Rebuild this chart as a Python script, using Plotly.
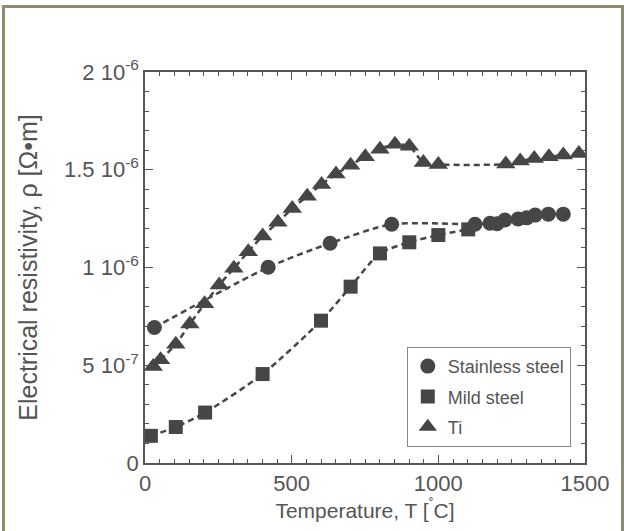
import plotly.graph_objects as go

# Data
ss_T = [32, 420, 631, 841, 1125, 1176, 1200, 1227, 1272, 1301, 1330, 1375, 1426]
ss_rho = [0.693, 1.001, 1.124, 1.221, 1.221, 1.226, 1.224, 1.243, 1.248, 1.254, 1.268, 1.273, 1.273]

mild_T = [20, 105, 205, 401, 600, 701, 801, 901, 1000, 1102]
mild_rho = [0.139, 0.184, 0.258, 0.455, 0.728, 0.902, 1.072, 1.129, 1.166, 1.195]

ti_T = [28, 53, 105, 153, 203, 253, 303, 352, 401, 453, 502, 553, 602, 651, 701,
        751, 801, 852, 901, 949, 1000, 1230, 1279, 1327, 1377, 1426, 1479]
ti_rho = [0.493, 0.528, 0.608, 0.711, 0.814, 0.911, 0.996, 1.081, 1.161, 1.231,
          1.302, 1.365, 1.425, 1.478, 1.523, 1.566, 1.605, 1.631, 1.620, 1.537,
          1.527, 1.529, 1.545, 1.558, 1.566, 1.575, 1.583]

y_tickvals = [0, 0.5e-6, 1e-6, 1.5e-6, 2e-6]
y_ticktext = ["0", "5 10<sup>-7</sup>", "1 10<sup>-6</sup>", "1.5 10<sup>-6</sup>", "2 10<sup>-6</sup>"]
x_tickvals = [0, 500, 1000, 1500]

series = [
    ("Stainless steel", ss_T, ss_rho, "circle", 15),
    ("Mild steel", mild_T, mild_rho, "square", 14),
    ("Ti", ti_T, ti_rho, "triangle-up", 17),
]

MC = "#464646"
TC = "#555555"
FAM = "Liberation Sans, Arial, sans-serif"
fig = go.Figure()
for name, T, r, sym, sz in series:
    rr = [v * 1e-6 for v in r]
    fig.add_trace(go.Scatter(
        x=T, y=rr, mode="lines", showlegend=False,
        line=dict(color=MC, width=2.5, dash="6px,4px", shape="spline", smoothing=0.7),
        hoverinfo="skip"))
for name, T, r, sym, sz in series:
    rr = [v * 1e-6 for v in r]
    fig.add_trace(go.Scatter(
        x=T, y=rr, mode="markers", name=name, legendgroup=name,
        marker=dict(symbol=sym, size=sz, color=MC, line=dict(width=0))))

axis_common = dict(
    showgrid=False, zeroline=False, showline=True, linecolor=TC, linewidth=1.5,
    mirror="allticks", ticks="inside", ticklen=8, tickwidth=1, tickcolor=TC,
    tickfont=dict(family=FAM, size=22, color=TC),
)

fig.update_layout(
    width=624, height=531,
    margin=dict(l=145, r=39, t=72, b=68),
    paper_bgcolor="white", plot_bgcolor="white",
    font=dict(family=FAM, color=TC),
    xaxis=dict(range=[0, 1500], tickvals=x_tickvals,
               minor=dict(dtick=50, ticklen=4, ticks="inside", tickcolor=TC),
               title=dict(text="Temperature, T [<sup>˚</sup>C]", font=dict(size=21, color=TC), standoff=4),
               **axis_common),
    yaxis=dict(range=[0, 2e-6], tickvals=y_tickvals, ticktext=y_ticktext,
               minor=dict(dtick=1e-7, tick0=0, ticklen=4, ticks="inside", tickcolor=TC),
               title=dict(text="Electrical resistivity, ρ [Ω•m]", font=dict(size=25, color=TC), standoff=19),
               **axis_common),
    legend=dict(x=0.595, y=0.297, xanchor="left", yanchor="top",
                bgcolor="white", bordercolor="#888888", borderwidth=1,
                font=dict(size=18, color=TC), tracegroupgap=4,
                traceorder="grouped"),
    showlegend=True,
    shapes=[dict(type="rect", xref="paper", yref="paper",
                 x0=(3.5 - 145) / 440, x1=(622.5 - 145) / 440,
                 y0=(463 - 540) / 391, y1=(463 - 6.5) / 391,
                 line=dict(color="#8f8c6e", width=3), fillcolor="rgba(0,0,0,0)", layer="below")],
)

fig.write_html("out.html")
